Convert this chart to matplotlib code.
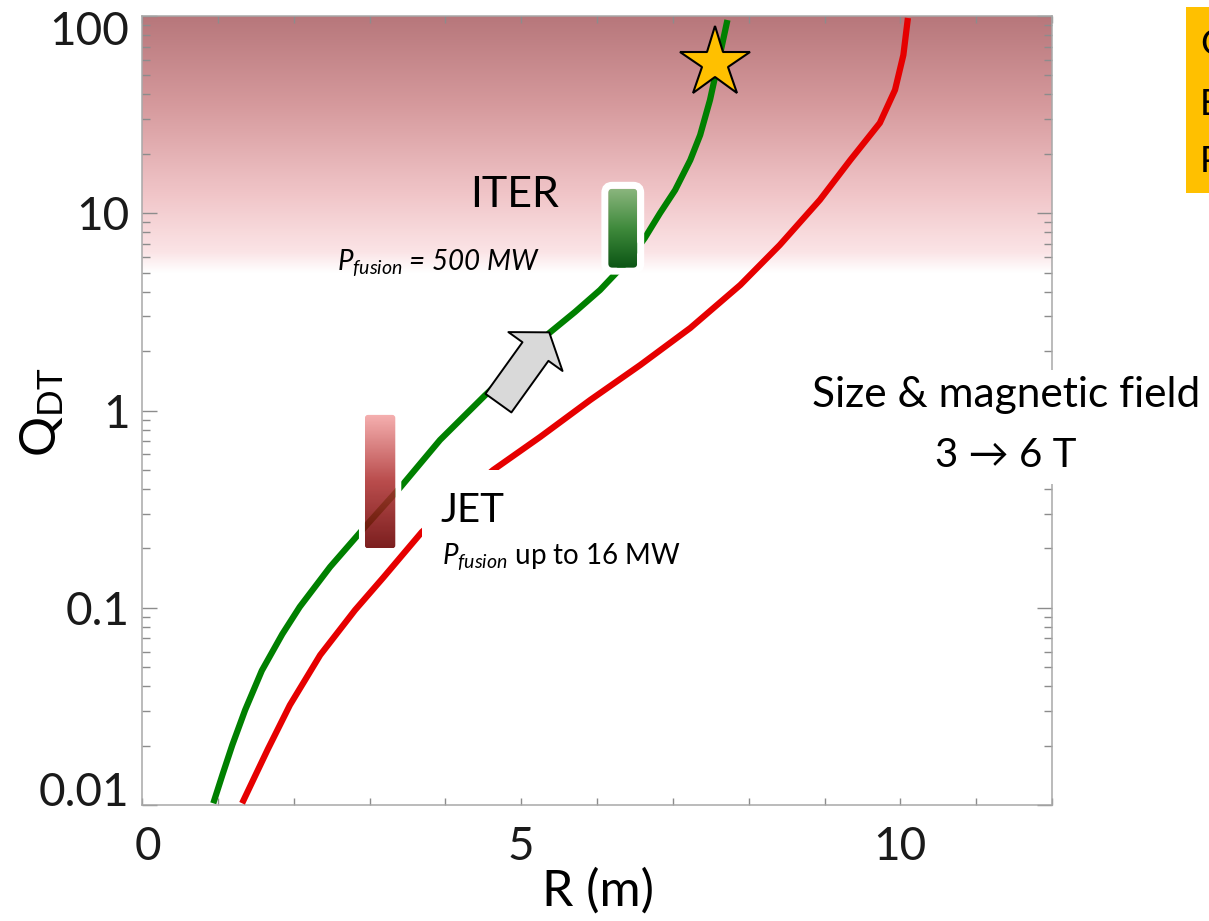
import numpy as np
import matplotlib
matplotlib.use("Agg")
import matplotlib.pyplot as plt
from matplotlib.patches import FancyBboxPatch, FancyArrowPatch, Rectangle
from matplotlib.colors import LinearSegmentedColormap
from matplotlib.transforms import IdentityTransform, ScaledTranslation
from matplotlib.ticker import FixedLocator, FixedFormatter, LogLocator, NullFormatter

# Fusion gain Q_DT versus major radius R (m) for two confinement scalings
r_green = [0.94, 1.06, 1.19, 1.36, 1.58, 1.85, 2.08, 2.48, 2.94, 3.40, 3.93, 4.52,
           4.99, 5.37, 5.71, 6.04, 6.24, 6.44, 6.63, 6.83, 7.03, 7.23, 7.36, 7.49,
           7.62, 7.72]
q_green = [0.0102, 0.0142, 0.0201, 0.0303, 0.0480, 0.0735, 0.101, 0.161, 0.257,
           0.405, 0.709, 1.19, 1.76, 2.47, 3.16, 4.08, 4.92, 5.93, 7.49, 10.0,
           13.1, 18.6, 24.9, 37.5, 63.4, 95.4]
r_red = [1.32, 1.49, 1.66, 1.95, 2.35, 2.81, 3.18, 3.69, 4.63, 5.25, 5.91, 6.57,
         7.23, 7.89, 8.41, 8.94, 9.34, 9.73, 9.93, 10.04, 10.10]
q_red = [0.0102, 0.0140, 0.0192, 0.0321, 0.0576, 0.0974, 0.142, 0.242, 0.499,
         0.734, 1.13, 1.70, 2.62, 4.33, 6.90, 11.7, 18.6, 28.7, 42.2, 63.4, 97.7]

# Machines: ranges of R and Q
jet_r = [2.94, 3.34]
jet_q = [0.20, 0.95]
iter_r = [6.15, 6.53]
iter_q = [5.3, 13.3]
star_r = [7.55]
star_q = [58.0]
arrow_tail = (4.70, 1.09)
arrow_tip = (5.37, 2.49)

# High-gain band
band_q = [5.0, 100.0]

x_limits = [0, 12]
y_limits = [0.01, 100]
x_ticks = [0, 5, 10]
x_ticklabels = ["0", "5", "10"]
y_ticks = [0.01, 0.1, 1, 10, 100]
y_ticklabels = ["0.01", "0.1", "1", "10", "100"]

plt.rcParams["font.family"] = ["Lato", "DejaVu Sans"]
plt.rcParams["mathtext.fontset"] = "custom"
plt.rcParams["mathtext.it"] = "Lato:italic"
plt.rcParams["mathtext.rm"] = "Lato"

W, H = 1209, 921
fig = plt.figure(figsize=(W / 100, H / 100), dpi=100)
ax = fig.add_axes([142 / W, 1 - 805 / H, (1052 - 142) / W, (805 - 16) / H])
ax.set_facecolor("white")
ax.set_yscale("log")
ax.set_xlim(*x_limits)
ax.set_ylim(*y_limits)


def to_px(r, q):
    return ax.transData.transform((r, q))


# shaded band, white at its lower edge and deep rose at the top
band_cmap = LinearSegmentedColormap.from_list(
    "band",
    [(0.0, "#ffffff"), (0.08, "#fbe4e6"), (0.3, "#f1c6c9"),
     (0.65, "#d69a9d"), (1.0, "#b7777b")])
fy0 = (np.log10(band_q[0]) + 2) / 4
fy1 = (np.log10(band_q[1]) + 2) / 4
grad = np.linspace(0, 1, 256).reshape(-1, 1)
ax.imshow(grad, extent=[0, 1, fy0, fy1], transform=ax.transAxes, origin="lower",
          cmap=band_cmap, aspect="auto", interpolation="bilinear", zorder=0)

# curves
ax.plot(r_green, q_green, color="#008000", lw=4.5, solid_capstyle="butt",
        solid_joinstyle="round", zorder=3)
ax.plot(r_red, q_red, color="#e60000", lw=4.5, solid_capstyle="butt",
        solid_joinstyle="round", zorder=3)

# white backing behind the JET annotation
ax.add_patch(Rectangle((3.69, 0.147), 3.67, 0.499 - 0.147, facecolor="white",
                       edgecolor="none", zorder=4))


def machine_box(rr, qq, colors, alpha, border, rounding, z):
    (x0, y0) = to_px(rr[0], qq[0])
    (x1, y1) = to_px(rr[1], qq[1])
    ring = FancyBboxPatch((x0 - border / 2, y0 - border / 2),
                          (x1 - x0) + border, (y1 - y0) + border,
                          boxstyle=f"round,pad=0,rounding_size={rounding + border / 2}",
                          facecolor="none", edgecolor="white",
                          lw=border * 0.72, transform=IdentityTransform(), zorder=z)
    ax.add_patch(ring)
    clip = FancyBboxPatch((x0, y0), x1 - x0, y1 - y0,
                          boxstyle=f"round,pad=0,rounding_size={rounding}",
                          facecolor="none", edgecolor="none",
                          transform=IdentityTransform())
    cmap = LinearSegmentedColormap.from_list("m", colors)
    im = ax.imshow(grad, extent=[x0, x1, y0, y1], transform=IdentityTransform(),
                   origin="lower", cmap=cmap, aspect="auto",
                   interpolation="bilinear", alpha=alpha, zorder=z + 0.1)
    im.set_clip_path(clip)


machine_box(jet_r, jet_q, ["#6a0000", "#b03434", "#f5a6a6"], 0.88, 6, 3, 4.5)
machine_box(iter_r, iter_q, ["#0b5514", "#3f8a3c", "#8ab57d"], 1.0, 7, 4, 4.5)

# arrow towards larger, higher-field machines
ax.add_patch(FancyArrowPatch(arrow_tail, arrow_tip,
                             arrowstyle="simple,head_length=17,head_width=48,tail_width=23",
                             mutation_scale=1, shrinkA=0, shrinkB=0,
                             facecolor="#d9d9d9", edgecolor="black", lw=1.4, zorder=6))

# goal marker
ax.plot(star_r, star_q, marker="*", ms=53, mfc="#ffc000", mec="black", mew=1.5,
        ls="none", zorder=7)

# labels next to the machines
ax.text(4.33, 10.8, "ITER", fontsize=31, ha="left", va="baseline", zorder=8)
ax.text(2.57, 5.15, r"$P_{fusion}$ = 500 MW", fontsize=20,
        style="italic", ha="left", va="baseline", zorder=8)
ax.text(3.93, 0.272, "JET", fontsize=29, ha="left", va="baseline", zorder=8)
ax.text(3.96, 0.165, r"$P_{fusion}$ up to 16 MW", fontsize=20,
        ha="left", va="baseline", zorder=8)

# axes styling
for s in ax.spines.values():
    s.set_color("#a8a8a8")
    s.set_linewidth(1.1)
ax.xaxis.set_major_locator(FixedLocator(x_ticks))
ax.xaxis.set_major_formatter(FixedFormatter(x_ticklabels))
ax.xaxis.set_minor_locator(FixedLocator(np.arange(0, 13)))
ax.yaxis.set_major_locator(FixedLocator(y_ticks))
ax.yaxis.set_major_formatter(FixedFormatter(y_ticklabels))
ax.yaxis.set_minor_locator(LogLocator(base=10, subs=np.arange(2, 10)))
ax.yaxis.set_minor_formatter(NullFormatter())
ax.tick_params(which="both", direction="in", top=True, right=True,
               color="#8c8c8c", width=1.0, labelcolor="#1a1a1a")
ax.tick_params(axis="x", which="both", length=5, pad=15, labelsize=33)
ax.tick_params(axis="y", which="major", length=11, pad=9, labelsize=33)
ax.tick_params(axis="y", which="minor", length=6)


def shift(label, dx_px, dy_px):
    label.set_transform(label.get_transform()
                        + ScaledTranslation(dx_px / 100, dy_px / 100, fig.dpi_scale_trans))


ylabels = ax.yaxis.get_majorticklabels()
shift(ylabels[0], 0, 16)
shift(ylabels[-1], 0, -12)
xlabels = ax.xaxis.get_majorticklabels()
shift(xlabels[0], 6, 0)

fig.text(598 / W, 1 - 891 / H, "R (m)", fontsize=36, ha="center", va="center")
fig.text(42 / W, 1 - 412 / H, r"$\mathregular{Q_{DT}}$", fontsize=36,
         rotation=90, ha="center", va="center")

# annotation on the right, with white backing
fig.add_artist(Rectangle((800 / W, 1 - 484 / H), (W - 800) / W, 114 / H,
                         transform=fig.transFigure, facecolor="white",
                         edgecolor="none", zorder=2))
fig.text(1006 / W, 1 - 407 / H, "Size & magnetic field", fontsize=30.5,
         ha="center", va="baseline", zorder=3)
fig.text(1006 / W, 1 - 467 / H, "3 \u2192 6 T", fontsize=29,
         ha="center", va="baseline", zorder=3)

# goals box at the top right
fig.add_artist(Rectangle((1186 / W, 1 - 193 / H), (W - 1186) / W + 0.01, 186 / H,
                         transform=fig.transFigure, facecolor="#ffc000",
                         edgecolor="none", zorder=2))
for yb, line in zip([55, 115, 172], ["Goal:", "Burning", "Plasma"]):
    fig.text(1200 / W, 1 - yb / H, line, fontsize=26, ha="left", va="baseline",
             zorder=3)

ax.set_xlim(*x_limits)
ax.set_ylim(*y_limits)
fig.savefig("out.png", dpi=100)
